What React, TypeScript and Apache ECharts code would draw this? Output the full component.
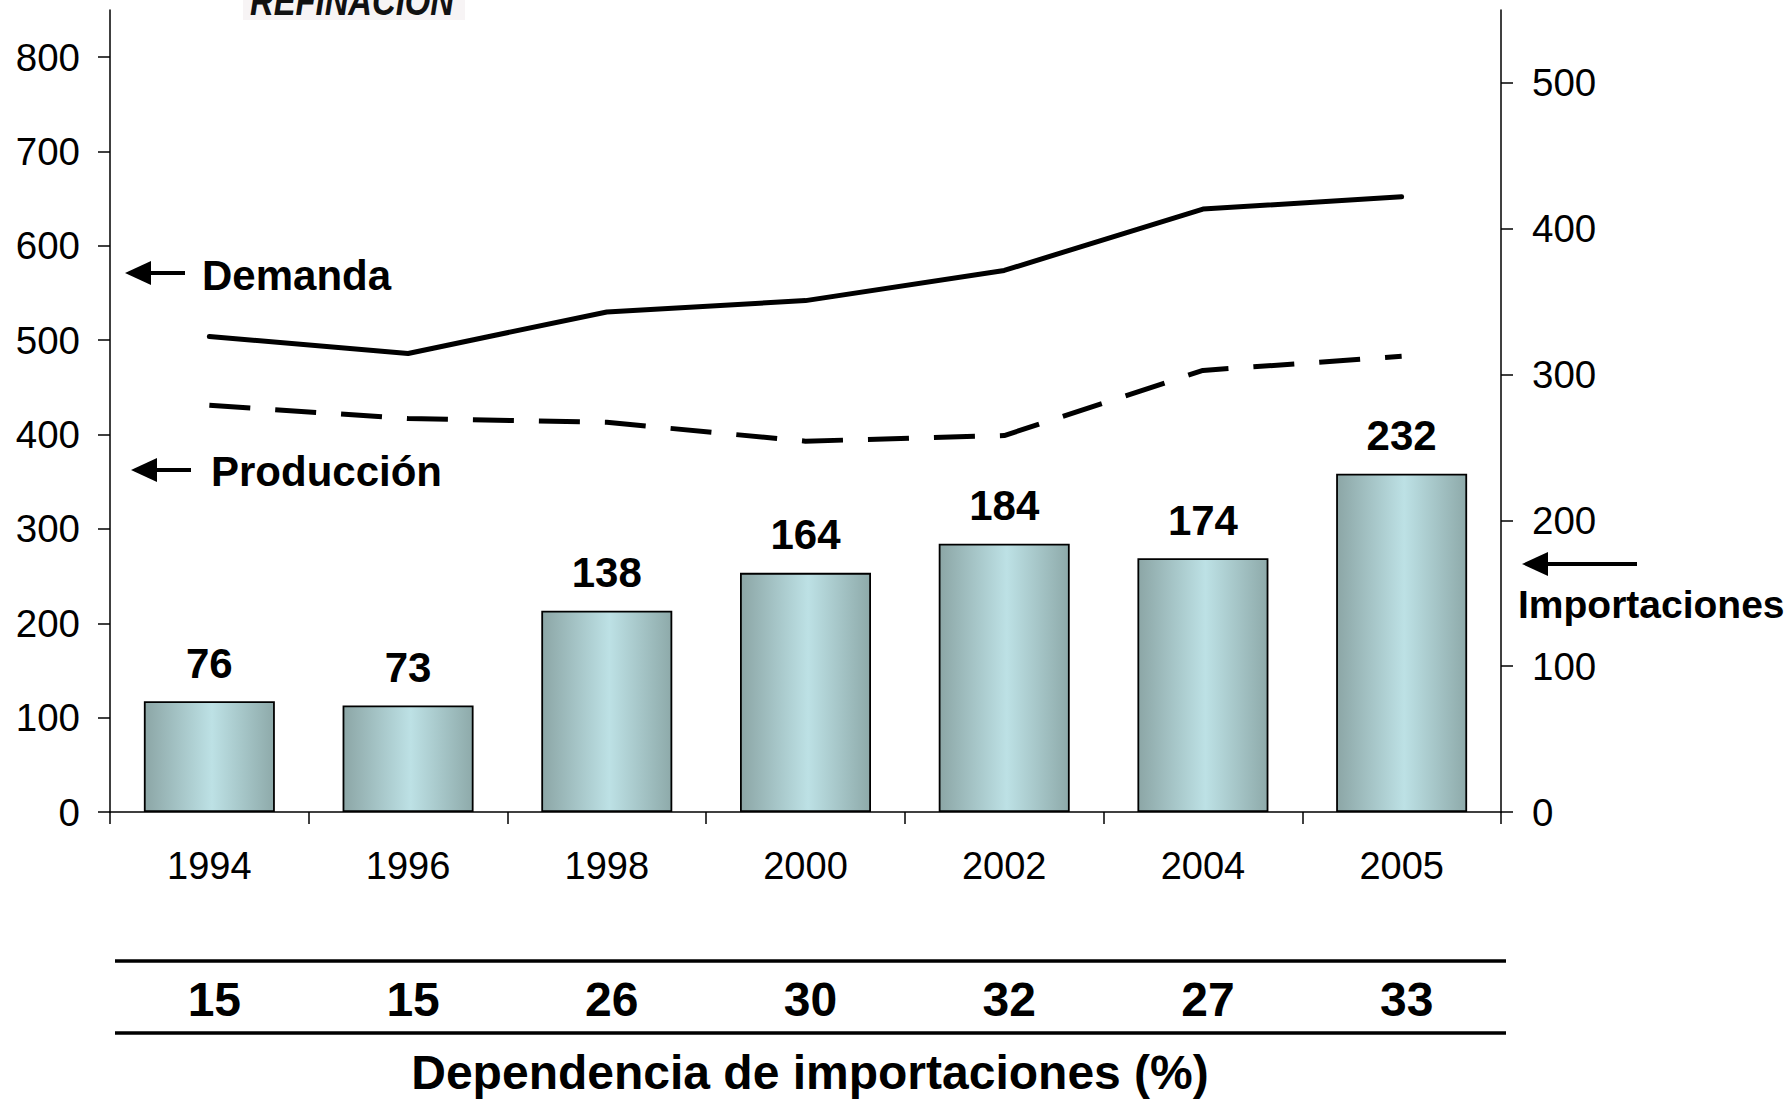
import React, { useEffect, useRef } from "react";
import * as echarts from "echarts";

const years = ["1994", "1996", "1998", "2000", "2002", "2004", "2005"];
const demanda = [504, 486, 530, 542, 574, 639, 652];
const produccion = [431, 417, 413, 393, 399, 468, 483];
const importaciones = [76, 73, 138, 164, 184, 174, 232];
const dependencia = [15, 15, 26, 30, 32, 27, 33];
const leftTicks = [0, 100, 200, 300, 400, 500, 600, 700, 800];
const rightTicks = [0, 100, 200, 300, 400, 500];

const FONT = "'Liberation Sans', Arial, sans-serif";

function arrow(tipX: number, y: number, tailX: number) {
  return [
    {
      type: "line",
      shape: { x1: tipX + 20, y1: y, x2: tailX, y2: y },
      style: { stroke: "#000", lineWidth: 4 },
    },
    {
      type: "polygon",
      shape: { points: [[tipX, y], [tipX + 26, y - 12], [tipX + 26, y + 12]] },
      style: { fill: "#000" },
    },
  ];
}

export default function App() {
  const ref = useRef<HTMLDivElement>(null);
  useEffect(() => {
    const chart = echarts.init(ref.current!, null, { renderer: "svg" });
    const option = {
      animation: false,
      backgroundColor: "#fff",
      grid: { left: 110, right: 285, top: 10, bottom: 291, containLabel: false },
      xAxis: [
        {
          type: "category",
          data: years,
          boundaryGap: true,
          axisLine: { show: true, lineStyle: { color: "#000", width: 1.5 } },
          axisTick: { show: true, length: 12, lineStyle: { color: "#000", width: 1.5 } },
          axisLabel: { color: "#000", fontSize: 38, fontFamily: FONT, margin: 35 },
          splitLine: { show: false },
        },
        {
          type: "category",
          data: dependencia.map(String),
          position: "bottom",
          offset: 150,
          boundaryGap: true,
          axisLine: { show: false },
          axisTick: { show: false },
          axisLabel: {
            color: "#000",
            fontSize: 48,
            fontWeight: "bold",
            fontFamily: FONT,
            margin: 13,
            padding: [0, 0, 0, 10],
          },
          splitLine: { show: false },
        },
      ],
      yAxis: [
        {
          type: "value",
          position: "left",
          min: 0,
          max: 850,
          interval: 100,
          axisLine: { show: true, lineStyle: { color: "#000", width: 1.5 } },
          axisTick: { show: true, length: 12, customValues: leftTicks, lineStyle: { color: "#000", width: 1.5 } },
          axisLabel: { color: "#000", fontSize: 38.5, fontFamily: FONT, margin: 30, customValues: leftTicks },
          splitLine: { show: false },
        },
        {
          type: "value",
          position: "right",
          min: 0,
          max: 550,
          interval: 100,
          axisLine: { show: true, lineStyle: { color: "#000", width: 1.5 } },
          axisTick: { show: true, length: 12, customValues: rightTicks, lineStyle: { color: "#000", width: 1.5 } },
          axisLabel: { color: "#000", fontSize: 38.5, fontFamily: FONT, margin: 31, customValues: rightTicks },
          splitLine: { show: false },
        },
      ],
      series: [
        {
          name: "Importaciones",
          type: "bar",
          xAxisIndex: 0,
          yAxisIndex: 1,
          data: importaciones,
          barWidth: 131,
          itemStyle: {
            color: new echarts.graphic.LinearGradient(0, 0, 1, 0, [
              { offset: 0, color: "#8ca6a6" },
              { offset: 0.52, color: "#bde1e5" },
              { offset: 1, color: "#8eaaaa" },
            ]),
            borderColor: "#000",
            borderWidth: 1.8,
          },
          label: {
            show: true,
            position: "top",
            distance: 17,
            color: "#000",
            fontSize: 42,
            fontWeight: "bold",
            fontFamily: FONT,
          },
        },
        {
          name: "Demanda",
          type: "line",
          xAxisIndex: 0,
          yAxisIndex: 0,
          data: demanda,
          symbol: "none",
          lineStyle: { color: "#000", width: 5, cap: "round" },
        },
        {
          name: "Producción",
          type: "line",
          xAxisIndex: 0,
          yAxisIndex: 0,
          data: produccion,
          symbol: "none",
          lineStyle: { color: "#000", width: 5, type: [41, 25], cap: "butt" },
        },
      ],
      graphic: [
        {
          type: "rect",
          shape: { x: 243, y: 0, width: 222, height: 20 },
          style: { fill: "#f7f4f5" },
          z: 1,
        },
        {
          type: "text",
          x: 250,
          y: 21,
          scaleX: 0.82,
          z: 2,
          style: {
            text: "REFINACION",
            fill: "#111",
            fontSize: 40,
            fontWeight: 900,
            fontStyle: "italic",
            fontFamily: FONT,
            textAlign: "left",
            textVerticalAlign: "bottom",
          },
        },
        ...arrow(125, 273, 185),
        {
          type: "text",
          x: 202,
          y: 275,
          style: {
            text: "Demanda",
            fill: "#000",
            fontSize: 42,
            fontWeight: "bold",
            fontFamily: FONT,
            textAlign: "left",
            textVerticalAlign: "middle",
          },
        },
        ...arrow(131, 470, 191),
        {
          type: "text",
          x: 211,
          y: 471,
          style: {
            text: "Producción",
            fill: "#000",
            fontSize: 42,
            fontWeight: "bold",
            fontFamily: FONT,
            textAlign: "left",
            textVerticalAlign: "middle",
          },
        },
        ...arrow(1522, 564, 1637),
        {
          type: "text",
          x: 1518,
          y: 604,
          style: {
            text: "Importaciones",
            fill: "#000",
            fontSize: 39,
            fontWeight: "bold",
            fontFamily: FONT,
            textAlign: "left",
            textVerticalAlign: "middle",
          },
        },
        {
          type: "line",
          shape: { x1: 115, y1: 961, x2: 1506, y2: 961 },
          style: { stroke: "#000", lineWidth: 3.5 },
        },
        {
          type: "line",
          shape: { x1: 115, y1: 1033, x2: 1506, y2: 1033 },
          style: { stroke: "#000", lineWidth: 3.5 },
        },
        {
          type: "text",
          x: 810,
          y: 1072,
          style: {
            text: "Dependencia de importaciones (%)",
            fill: "#000",
            fontSize: 48,
            fontWeight: "bold",
            fontFamily: FONT,
            textAlign: "center",
            textVerticalAlign: "middle",
          },
        },
      ],
    };
    chart.setOption(option as any);
    return () => chart.dispose();
  }, []);
  return (
    <div
      ref={ref}
      style={{ position: "absolute", left: 0, top: 0, width: 1786, height: 1103 }}
    />
  );
}
